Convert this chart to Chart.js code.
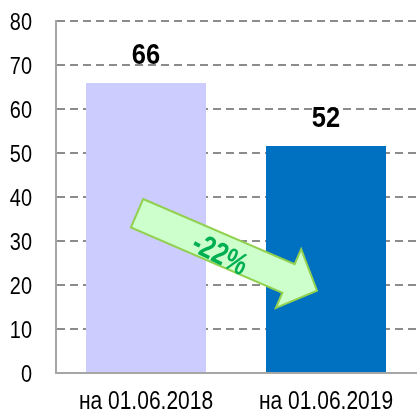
<!DOCTYPE html>
<html>
<head>
<meta charset="utf-8">
<script src="https://cdn.jsdelivr.net/npm/chart.js@4/dist/chart.umd.min.js"></script>
<style>
html,body{margin:0;padding:0;background:#fff;}
#wrap{width:417px;height:415px;}
</style>
</head>
<body>
<div id="wrap"><canvas id="c" width="417" height="415"></canvas></div>
<script>
const categories = ['на 01.06.2018', 'на 01.06.2019'];
const values = [65.9, 51.6];
const valueLabels = ['66', '52'];
const barColors = ['#ccccff', '#0070c0'];
const yTicks = [0, 10, 20, 30, 40, 50, 60, 70, 80];
const changeLabel = '-22%';
// arrow endpoints in data space: [category index, value]
const arrowFrom = [-0.05, 36.3];
const arrowTo = [0.95, 18.7];

const FONT = "'Liberation Sans', Arial, sans-serif";

function narrowText(ctx, text, x, y, sx) {
  ctx.save();
  ctx.translate(x, y);
  ctx.scale(sx, 1);
  ctx.fillText(text, 0, 0);
  ctx.restore();
}

const labelPlugin = {
  id: 'valueLabels',
  afterDraw(chart) {
    const ctx = chart.ctx;
    const meta = chart.getDatasetMeta(0);
    const xs = chart.scales.x, ys = chart.scales.y;
    const area = chart.chartArea;

    // y tick labels
    ctx.save();
    ctx.font = '24px ' + FONT;
    ctx.fillStyle = '#000';
    ctx.textAlign = 'right';
    ctx.textBaseline = 'alphabetic';
    ys.ticks.forEach(t => {
      narrowText(ctx, String(t.value), area.left - 24, ys.getPixelForValue(t.value) + 8.5, 0.83);
    });
    // x labels
    ctx.font = '25px ' + FONT;
    ctx.textAlign = 'center';
    categories.forEach((c, i) => {
      narrowText(ctx, c, xs.getPixelForValue(i), area.bottom + 36, 0.84);
    });
    ctx.restore();

    // arrow
    const x1 = xs.getPixelForValue(arrowFrom[0]), y1 = ys.getPixelForValue(arrowFrom[1]);
    const x2 = xs.getPixelForValue(arrowTo[0]), y2 = ys.getPixelForValue(arrowTo[1]);
    const ang = Math.atan2(y2 - y1, x2 - x1);
    const len = Math.hypot(x2 - x1, y2 - y1);
    const sw = 15.5, hw = 32, hl = 31;
    ctx.save();
    ctx.translate(x1, y1);
    ctx.rotate(ang);
    ctx.beginPath();
    ctx.moveTo(0, -sw);
    ctx.lineTo(len - hl, -sw);
    ctx.lineTo(len - hl, -hw);
    ctx.lineTo(len, 0);
    ctx.lineTo(len - hl, hw);
    ctx.lineTo(len - hl, sw);
    ctx.lineTo(0, sw);
    ctx.closePath();
    ctx.fillStyle = '#ccffcc';
    ctx.fill();
    ctx.lineWidth = 2;
    ctx.strokeStyle = '#92d050';
    ctx.lineJoin = 'miter';
    ctx.stroke();
    ctx.font = 'bold 31px ' + FONT;
    ctx.fillStyle = '#00b050';
    ctx.textAlign = 'center';
    ctx.textBaseline = 'middle';
    ctx.translate(len * 0.43 + 8, 6);
    ctx.rotate(0.06);
    ctx.scale(0.8, 1);
    ctx.fillText(changeLabel, 0, 0);
    ctx.restore();

    // value labels
    ctx.save();
    ctx.font = 'bold 29px ' + FONT;
    ctx.fillStyle = '#000';
    ctx.textAlign = 'center';
    ctx.textBaseline = 'alphabetic';
    meta.data.forEach((bar, i) => {
      narrowText(ctx, valueLabels[i], bar.x, bar.y - 19, 0.88);
    });
    ctx.restore();
  }
};

new Chart(document.getElementById('c'), {
  type: 'bar',
  data: {
    labels: categories,
    datasets: [{
      data: values,
      backgroundColor: barColors,
      borderWidth: 0,
      barPercentage: 2/3,
      categoryPercentage: 1
    }]
  },
  options: {
    responsive: false,
    animation: false,
    events: [],
    layout: { padding: { top: 21, right: 1, left: 0, bottom: 0 } },
    plugins: { legend: { display: false }, tooltip: { enabled: false } },
    scales: {
      x: {
        grid: { display: false, drawTicks: false },
        border: { display: true, color: '#a6a6a6', width: 2 },
        ticks: { display: false },
        afterFit(s) { s.height = 42; }
      },
      y: {
        min: 0, max: 80,
        afterBuildTicks(s) { s.ticks = yTicks.map(v => ({ value: v })); },
        afterFit(s) { s.width = 56; },
        grid: {
          drawTicks: false,
          color: ctx => ctx.tick && ctx.tick.value === 0 ? 'rgba(0,0,0,0)' : '#8c8c8c',
          lineWidth: 2
        },
        border: { display: true, color: '#a6a6a6', width: 2, dash: [8, 5] },
        ticks: { display: false }
      }
    }
  },
  plugins: [labelPlugin]
});
</script>
</body>
</html>
